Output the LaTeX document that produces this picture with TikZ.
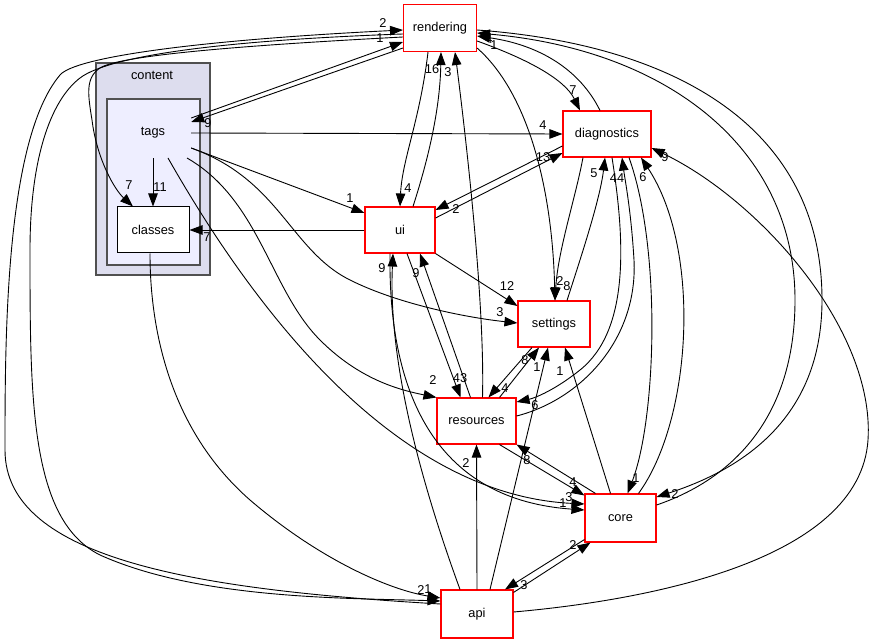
\documentclass[tikz,border=0pt]{standalone}
\usepackage{fontspec}
\setmainfont{Liberation Sans}
\usetikzlibrary{arrows.meta}

\definecolor{clusterout}{HTML}{DDDDEE}
\definecolor{clusterin}{HTML}{EEEEFF}
\definecolor{clusterline}{HTML}{505050}

\tikzset{
    every node/.style={font=\fontsize{12.8}{14}\selectfont},
    dir/.style={draw=red, line width=1.1pt, fill=white, minimum height=46pt, inner sep=0pt},
    subdir/.style={draw=black, line width=1pt, fill=white, minimum height=46pt, inner sep=0pt},
    cluster/.style={draw=clusterline, line width=1.6pt},
    dep/.style={-{Triangle[length=13pt,width=9.5pt]}, line width=0.9pt},
    lbl/.style={inner sep=0pt}
}

\begin{document}
\begin{tikzpicture}[x=1pt,y=-1pt]
    \useasboundingbox (0,0) rectangle (880,644);

    % Define the clusters for content and tags
    \draw[cluster, fill=clusterout] (96,63) rectangle (210,275);
    \node (content) at (152,75) {content};
    \draw[cluster, fill=clusterin] (107,99) rectangle (200,265);
    \node[minimum width=76pt, minimum height=50pt, inner sep=0pt] (tags) at (153,133) {tags};
    \node[subdir, minimum width=72pt] (classes) at (153,230) {classes};

    % Define the directory boxes
    \node[dir, minimum width=73pt, minimum height=47pt] (rendering) at (440,28) {rendering};
    \node[dir, minimum width=88pt] (diagnostics) at (607,134) {diagnostics};
    \node[dir, minimum width=70pt] (ui) at (400,230) {ui};
    \node[dir, minimum width=72pt] (settings) at (554,324) {settings};
    \node[dir, minimum width=79pt] (resources) at (476.5,421) {resources};
    \node[dir, minimum width=71pt, minimum height=48pt] (core) at (620.5,518) {core};
    \node[dir, minimum width=72pt, minimum height=48pt] (api) at (477,614) {api};

    % Edges between tags and rendering
    \draw[dep] ([yshift=15pt]tags.east) -- ([yshift=-14pt]rendering.west) node[lbl] at (380,38) {1};
    \draw[dep] ([yshift=-20pt]rendering.west) -- ([yshift=11pt]tags.east) node[lbl] at (208,123) {9};

    % Long curves round the left side
    \draw[dep] ([yshift=10pt]api.west) .. controls (200,590) and (5,560) .. (5,450)
        .. controls (5,340) and (5,140) .. (60,75)
        .. controls (75,57) and (200,40) .. ([yshift=-2pt]rendering.west) node[lbl] at (383,23) {2};
    \draw[dep] ([yshift=-6pt]rendering.west) .. controls (230,40) and (110,55) .. (80,78)
        .. controls (50,101) and (30,160) .. (30,250)
        .. controls (30,400) and (30,520) .. (100,555)
        .. controls (200,600) and (350,598) .. ([yshift=13pt]api.west) node[lbl] at (428,589) {1};
    \draw[dep] ([xshift=-3pt]classes.south) .. controls (150,330) and (170,430) .. (250,500)
        .. controls (320,560) and (390,590) .. ([yshift=16pt]api.west) node[lbl] at (421,590) {2};
    \draw[dep] ([yshift=-9pt]rendering.west) .. controls (250,45) and (120,55) .. (100,68)
        .. controls (85,78) and (88,95) .. (92,120)
        .. controls (97,160) and (115,190) .. ([xshift=-20pt]classes.north) node[lbl] at (129,185) {7};

    % Edges between rendering and ui, resources
    \draw[dep] ([xshift=-12pt]rendering.south) .. controls (420,120) and (402,160) .. (ui.north) node[lbl] at (408,188) {4};
    \draw[dep] ([xshift=13pt]ui.north) .. controls (428,160) and (440,110) .. ([xshift=1pt]rendering.south) node[lbl] at (432,69) {16};
    \draw[dep] ([xshift=6pt]resources.north) .. controls (485,300) and (465,130) .. ([xshift=15pt]rendering.south) node[lbl] at (448,72) {3};

    % Edges from rendering to the right
    \draw[dep] ([yshift=-20pt]rendering.east) .. controls (525,90) and (552,180) .. ([xshift=1pt]settings.north) node[lbl] at (560,281) {2};
    \draw[dep] ([yshift=-13pt]rendering.east) .. controls (530,60) and (565,80) .. ([xshift=-27pt]diagnostics.north) node[lbl] at (573,90) {7};
    \draw[dep] ([xshift=-7pt]diagnostics.north) .. controls (580,70) and (540,45) .. ([yshift=-8pt]rendering.east) node[lbl] at (494,45) {1};

    % Long curves round the right side
    \draw[dep] ([yshift=-2pt]rendering.east) .. controls (680,45) and (822,130) .. (822,300)
        .. controls (822,420) and (740,470) .. ([yshift=21pt]core.east) node[lbl] at (675,494) {2};
    \draw[dep] ([yshift=13pt]core.east) .. controls (730,480) and (795,420) .. (795,300)
        .. controls (795,150) and (670,50) .. ([yshift=-5pt]rendering.east) node[lbl] at (489,39) {4};
    \draw[dep] ([yshift=2pt]api.east) .. controls (650,600) and (860,560) .. (868,440)
        .. controls (875,330) and (760,200) .. ([yshift=-14pt]diagnostics.east) node[lbl] at (665,157) {9};

    % Edges leaving tags
    \draw[dep] (tags.east) -- (diagnostics.west) node[lbl] at (543,125) {4};
    \draw[dep] ([yshift=-15pt]tags.east) -- ([yshift=17pt]ui.west) node[lbl] at (350,198) {1};
    \draw[dep] (tags.south) -- (classes.north) node[lbl] at (160,187) {11};
    \draw[dep] ([yshift=-15pt]tags.east) .. controls (280,180) and (290,250) .. (350,280)
        .. controls (400,305) and (470,318) .. ([yshift=1pt]settings.west) node[lbl] at (500,312) {3};
    \draw[dep] ([xshift=34pt,yshift=-25pt]tags.center) .. controls (260,200) and (270,290) .. (320,340)
        .. controls (360,380) and (400,390) .. (resources.north west) node[lbl] at (433,380) {2};
    \draw[dep] ([xshift=15pt,yshift=-25pt]tags.center) .. controls (260,320) and (400,495) .. ([yshift=14pt]core.west) node[lbl] at (569,497) {3};

    % Edges of ui
    \draw[dep] (ui.west) -- (classes.east) node[lbl] at (207,237) {7};
    \draw[dep] ([yshift=12pt]ui.east) -- ([yshift=-19pt]diagnostics.west) node[lbl] at (543,157) {13};
    \draw[dep] ([yshift=-12pt]diagnostics.west) -- ([yshift=20pt]ui.east) node[lbl] at (456,209) {2};
    \draw[dep] ([xshift=-10pt]ui.south) .. controls (388,400) and (440,500) .. ([yshift=8pt]core.west) node[lbl] at (563,503) {1};
    \draw[dep] ([xshift=-17pt]api.north) .. controls (420,480) and (388,360) .. ([xshift=-7pt]ui.south) node[lbl] at (382,268) {9};
    \draw[dep] ([xshift=7pt]ui.south) -- ([xshift=-16pt]resources.north) node[lbl] at (460,378) {43};
    \draw[dep] ([xshift=-6pt]resources.north) -- ([xshift=20pt]ui.south) node[lbl] at (416,273) {9};
    \draw[dep] (ui.south east) -- ([yshift=18pt]settings.west) node[lbl] at (507,286) {12};

    % Edges of settings
    \draw[dep] ([xshift=23pt]resources.north) -- ([xshift=-15pt]settings.south) node[lbl] at (525,360) {8};
    \draw[dep] ([xshift=-22pt]settings.south) -- ([xshift=12pt]resources.north) node[lbl] at (505,388) {4};
    \draw[dep] ([xshift=13pt]api.north) -- ([xshift=-6pt]settings.south) node[lbl] at (537,367) {1};
    \draw[dep] ([xshift=-10pt]core.north) -- ([xshift=11pt]settings.south) node[lbl] at (560,371) {1};
    \draw[dep] ([xshift=-24pt]diagnostics.south) .. controls (575,200) and (558,250) .. ([xshift=1pt]settings.north) node[lbl] at (567,286) {8};
    \draw[dep] ([xshift=13pt]settings.north) .. controls (580,260) and (600,200) .. ([xshift=-2pt]diagnostics.south) node[lbl] at (594,173) {5};

    % Edges of diagnostics
    \draw[dep] ([xshift=5pt]diagnostics.south) .. controls (625,240) and (630,330) .. (580,370)
        .. controls (555,390) and (535,398) .. ([yshift=19pt]resources.east) node[lbl] at (535,405) {6};
    \draw[dep] ([yshift=5pt]resources.east) .. controls (580,400) and (638,340) .. (634,260)
        .. controls (631,210) and (625,180) .. ([xshift=15pt]diagnostics.south) node[lbl] at (617,178) {44};
    \draw[dep] ([xshift=22pt]diagnostics.south) .. controls (662,250) and (656,420) .. ([xshift=7pt]core.north) node[lbl] at (636,478) {1};
    \draw[dep] ([xshift=18pt]core.north) .. controls (692,420) and (702,250) .. ([xshift=34pt]diagnostics.south) node[lbl] at (643,177) {6};

    % Edges of api and core
    \draw[dep] (api.north) -- (resources.south) node[lbl] at (466,463) {2};
    \draw[dep] ([xshift=23pt]resources.south) -- ([yshift=-2pt]core.north west) node[lbl] at (573,482) {4};
    \draw[dep] ([xshift=-25pt]core.north) -- (resources.south east) node[lbl] at (527,460) {8};
    \draw[dep] ([yshift=-3pt]api.north east) -- ([xshift=-30pt]core.south) node[lbl] at (573,545) {2};
    \draw[dep] ([yshift=3pt]core.south west) -- ([xshift=28pt]api.north) node[lbl] at (524,585) {3};

\end{tikzpicture}
\end{document}
